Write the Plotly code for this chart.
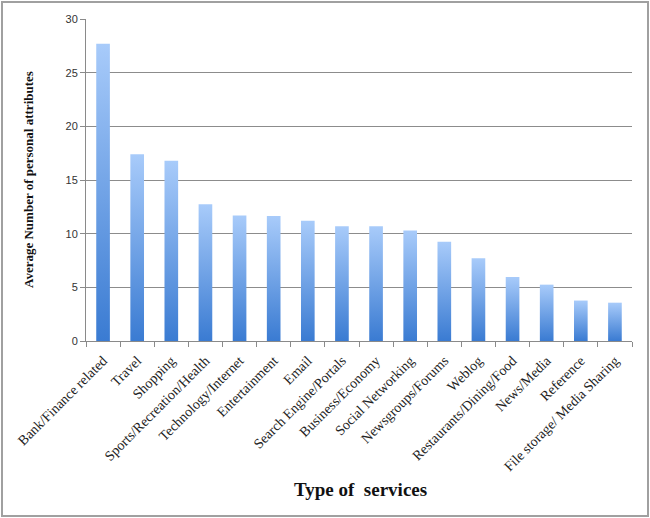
import plotly.graph_objects as go

categories = [
    "Bank/Finance related", "Travel", "Shopping", "Sports/Recreation/Health",
    "Technology/Internet", "Entertainment", "Email", "Search Engine/Portals",
    "Business/Economy", "Social Networking", "Newsgroups/Forums", "Weblog",
    "Restaurants/Dining/Food", "News/Media", "Reference", "File storage/ Media Sharing",
]
values = [27.7, 17.4, 16.8, 12.75, 11.7, 11.65, 11.2, 10.7, 10.7, 10.3, 9.25, 7.7, 5.97, 5.25, 3.77, 3.57]
y_ticks = [0, 5, 10, 15, 20, 25, 30]

x_title = "Type of\u00a0 services"
y_title = "Average Number of personal attributes"

W, H = 650, 518
L, R, T, B = 86, 18, 19, 177
pw, ph = W - L - R, H - T - B


def px(x):
    return (x - L) / pw


def py(y):
    return (H - B - y) / ph


SERIF = "Liberation Serif, Times New Roman, serif"
SANS = "Liberation Sans, Arial, sans-serif"

fig = go.Figure()
half = 0.2
for i, (c, v) in enumerate(zip(categories, values)):
    fig.add_trace(go.Scatter(
        x=[i - half, i - half, i + half, i + half, i - half],
        y=[0, v, v, 0, 0],
        fill="toself",
        mode="lines",
        line=dict(width=0, color="rgba(0,0,0,0)"),
        fillgradient=dict(type="vertical",
                          colorscale=[[0, "#3a7bd2"], [1, "#a8cbfa"]]),
        name=c,
        showlegend=False,
        hoverinfo="skip",
    ))

n = len(categories)
fig.update_xaxes(
    range=[-0.5, n - 0.5],
    tickmode="array",
    tickvals=list(range(n)),
    ticktext=categories,
    tickangle=-45,
    ticks="",
    ticklabelstandoff=5,
    showgrid=False,
    zeroline=False,
    showline=True,
    linecolor="#8a8a8a",
    linewidth=1,
    tickfont=dict(family=SERIF, size=14, color="#222222"),
    minor=dict(tickmode="array", tickvals=[i - 0.5 for i in range(n + 1)],
               ticks="outside", ticklen=5, tickcolor="#8a8a8a", tickwidth=1,
               showgrid=False),
    fixedrange=True,
)
fig.update_yaxes(
    range=[0, 30],
    tickmode="array",
    tickvals=y_ticks,
    ticks="outside",
    ticklen=5,
    tickcolor="#8a8a8a",
    showgrid=True,
    gridcolor="#8c8c8c",
    gridwidth=1,
    zeroline=False,
    showline=True,
    linecolor="#8a8a8a",
    linewidth=1,
    tickfont=dict(family=SANS, size=11, color="#333333"),
    fixedrange=True,
)

fig.update_layout(
    width=W, height=H,
    margin=dict(l=L, r=R, t=T, b=B, autoexpand=False),
    plot_bgcolor="white",
    paper_bgcolor="white",
    showlegend=False,
    annotations=[
        dict(text=x_title, xref="paper", yref="paper", x=px(360), y=py(489),
             xanchor="center", yanchor="middle", showarrow=False,
             font=dict(family=SERIF, size=19, color="#111111", weight="bold")),
        dict(text=y_title, xref="paper", yref="paper", x=px(28), y=py(180),
             xanchor="center", yanchor="middle", showarrow=False, textangle=-90,
             font=dict(family=SERIF, size=13, color="#111111", weight="bold")),
    ],
    shapes=[
        dict(type="rect", xref="paper", yref="paper",
             x0=px(2), x1=px(648), y0=py(516), y1=py(2),
             line=dict(color="#a0a0a0", width=2), fillcolor="rgba(0,0,0,0)",
             layer="below"),
    ],
)

fig.write_html("out.html")
